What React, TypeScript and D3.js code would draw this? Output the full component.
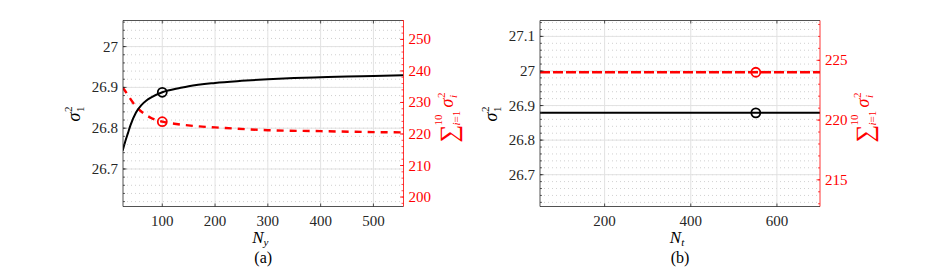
import React from "react";
import * as d3 from "d3";

// panel (a): sweep over N_y
const nyValues = [25, 30, 35, 40, 50, 60, 70, 80, 100, 135, 150, 200, 250, 300, 350, 400, 450, 500, 557];
const nySigma1 = [26.745, 26.768, 26.788, 26.808, 26.838, 26.856, 26.868, 26.876, 26.888, 26.899, 26.903, 26.911, 26.916, 26.92, 26.923, 26.925, 26.927, 26.928, 26.93];
const nyRedX = [25, 35, 45, 55, 65, 80, 100, 130, 170, 200, 300, 400, 500, 557];
const nySumSigma = [234.8, 232.3, 229.8, 227.9, 226.5, 225.0, 223.9, 223.1, 222.4, 222.1, 221.2, 220.9, 220.6, 220.5];
const nyPick = 100;

// panel (b): sweep over N_t (flat)
const ntValues = [50, 100, 200, 300, 400, 500, 551, 600, 700];
const ntSigma1 = [26.879, 26.879, 26.879, 26.879, 26.879, 26.879, 26.879, 26.879, 26.879];
const ntSumSigma = [224.0, 224.0, 224.0, 224.0, 224.0, 224.0, 224.0, 224.0, 224.0];
const ntPick = 551;

const aXTicks = [100, 200, 300, 400, 500];
const aLeftTicks = [26.7, 26.8, 26.9, 27];
const aRightTicks = [200, 210, 220, 230, 240, 250];
const bXTicks = [200, 400, 600];
const bLeftTicks = [26.7, 26.8, 26.9, 27, 27.1];
const bRightTicks = [215, 220, 225];

const FONT = "Liberation Serif";
const RED = "#ff0000";
const AXIS = "#262626";
const TICK = 15;

type PanelProps = {
  left: number;
  right: number;
  top: number;
  bottom: number;
  xDomain: [number, number];
  leftDomain: [number, number];
  rightDomain: [number, number];
  xTicks: number[];
  leftTicks: number[];
  rightTicks: number[];
  leftMinor: number;
  rightMinor: number;
  blackX: number[];
  blackY: number[];
  redX: number[];
  redY: number[];
  pick: number;
  dash: string;
  xSub: string;
  caption: string;
};

function fmt(v: number) {
  return String(+v.toFixed(3));
}

function range(lo: number, hi: number, step: number) {
  const out: number[] = [];
  const start = Math.ceil(lo / step - 1e-9);
  for (let k = start; k * step <= hi + 1e-9; k++) out.push(+(k * step).toFixed(6));
  return out;
}

function Panel(p: PanelProps) {
  const x = d3.scaleLinear().domain(p.xDomain).range([p.left, p.right]);
  const yL = d3.scaleLinear().domain(p.leftDomain).range([p.bottom, p.top]);
  const yR = d3.scaleLinear().domain(p.rightDomain).range([p.bottom, p.top]);

  const black = d3
    .line<number>()
    .x((_, i) => x(p.blackX[i]))
    .y((d) => yL(d))
    .curve(d3.curveMonotoneX)(p.blackY) as string;
  const red = d3
    .line<number>()
    .x((_, i) => x(p.redX[i]))
    .y((d) => yR(d))
    .curve(d3.curveMonotoneX)(p.redY) as string;

  const bi = p.blackX.indexOf(p.pick);
  const ri = p.redX.indexOf(p.pick);
  const leftMinors = range(p.leftDomain[0], p.leftDomain[1], p.leftMinor);
  const rightMinors = range(p.rightDomain[0], p.rightDomain[1], p.rightMinor);
  const cx = (p.left + p.right) / 2;
  const cy = (p.top + p.bottom) / 2;

  return (
    <g>
      <defs>
        <clipPath id={`clip-${p.caption}`}>
          <rect x={p.left} y={p.top} width={p.right - p.left} height={p.bottom - p.top} />
        </clipPath>
      </defs>
      {/* minor dotted grid */}
      {leftMinors.map((v) => (
        <line key={"mg" + v} x1={p.left} x2={p.right} y1={yL(v)} y2={yL(v)} stroke="#c4c4c4" strokeWidth={0.8} strokeDasharray="1 3" />
      ))}
      {/* major grid */}
      {p.leftTicks.map((v) => (
        <line key={"g" + v} x1={p.left} x2={p.right} y1={yL(v)} y2={yL(v)} stroke="#e2e2e2" strokeWidth={1} />
      ))}
      {p.xTicks.map((v) => (
        <line key={"gx" + v} x1={x(v)} x2={x(v)} y1={p.top} y2={p.bottom} stroke="#e2e2e2" strokeWidth={1} />
      ))}

      {/* data */}
      <g clipPath={`url(#clip-${p.caption})`}>
        <path d={red} fill="none" stroke={RED} strokeWidth={2.4} strokeDasharray={p.dash} />
        <path d={black} fill="none" stroke="#000" strokeWidth={2} />
      </g>
      <circle cx={x(p.pick)} cy={yL(p.blackY[bi])} r={4.5} fill="none" stroke="#000" strokeWidth={1.8} />
      <circle cx={x(p.pick)} cy={yR(p.redY[ri])} r={4.5} fill="none" stroke={RED} strokeWidth={1.8} />

      {/* box */}
      <line x1={p.left} x2={p.right} y1={p.top} y2={p.top} stroke={AXIS} strokeWidth={0.8} />
      <line x1={p.left} x2={p.right} y1={p.bottom} y2={p.bottom} stroke={AXIS} strokeWidth={0.8} />
      <line x1={p.left} x2={p.left} y1={p.top} y2={p.bottom} stroke={AXIS} strokeWidth={0.8} />
      <line x1={p.right} x2={p.right} y1={p.top} y2={p.bottom} stroke={RED} strokeWidth={0.8} />

      {/* x ticks */}
      {p.xTicks.map((v) => (
        <g key={"xt" + v}>
          <line x1={x(v)} x2={x(v)} y1={p.bottom} y2={p.bottom - 3} stroke={AXIS} strokeWidth={0.8} />
          <line x1={x(v)} x2={x(v)} y1={p.top} y2={p.top + 3} stroke={AXIS} strokeWidth={0.8} />
          <text x={x(v)} y={p.bottom + 19} textAnchor="middle" fontFamily={FONT} fontSize={TICK} fill="#262626">
            {fmt(v)}
          </text>
        </g>
      ))}

      {/* left axis */}
      {leftMinors.map((v) => (
        <line key={"lm" + v} x1={p.left} x2={p.left + 2} y1={yL(v)} y2={yL(v)} stroke={AXIS} strokeWidth={0.7} />
      ))}
      {p.leftTicks.map((v) => (
        <g key={"lt" + v}>
          <line x1={p.left} x2={p.left + 3.5} y1={yL(v)} y2={yL(v)} stroke={AXIS} strokeWidth={0.8} />
          <text x={p.left - 5} y={yL(v) + 5} textAnchor="end" fontFamily={FONT} fontSize={TICK} fill="#262626">
            {fmt(v)}
          </text>
        </g>
      ))}

      {/* right axis */}
      {rightMinors.map((v) => (
        <line key={"rm" + v} x1={p.right} x2={p.right - 2} y1={yR(v)} y2={yR(v)} stroke={RED} strokeWidth={0.7} />
      ))}
      {p.rightTicks.map((v) => (
        <g key={"rt" + v}>
          <line x1={p.right} x2={p.right - 3.5} y1={yR(v)} y2={yR(v)} stroke={RED} strokeWidth={0.8} />
          <text x={p.right + 5} y={yR(v) + 5} textAnchor="start" fontFamily={FONT} fontSize={TICK} fill={RED}>
            {fmt(v)}
          </text>
        </g>
      ))}

      {/* left label sigma_1^2 */}
      <g transform={`translate(${p.left - 48},${cy}) rotate(-90)`} fill="#000">
        <text x={-8} y={5} fontFamily={FONT} fontSize={18} fontStyle="italic">σ</text>
        <text x={1.5} y={-3} fontFamily={FONT} fontSize={11}>2</text>
        <text x={1.5} y={9} fontFamily={FONT} fontSize={11}>1</text>
      </g>

      {/* right label sum sigma_i^2 */}
      <g transform={`translate(${p.right + 44},${cy}) rotate(-90)`} fill={RED}>
        <text x={-29} y={9} fontFamily={FONT} fontSize={25}>∑</text>
        <text x={-12} y={-6} fontFamily={FONT} fontSize={11}>10</text>
        <text x={-12} y={12} fontFamily={FONT} fontSize={11}>
          <tspan fontStyle="italic">i</tspan>=1
        </text>
        <text x={6} y={5} fontFamily={FONT} fontSize={18} fontStyle="italic">σ</text>
        <text x={15.5} y={-3} fontFamily={FONT} fontSize={11}>2</text>
        <text x={15.5} y={9} fontFamily={FONT} fontSize={11} fontStyle="italic">i</text>
      </g>

      {/* x label */}
      <text x={cx - 3} y={p.bottom + 36} textAnchor="middle" fontFamily={FONT} fontSize={17} fill="#000">
        <tspan fontStyle="italic">N</tspan>
        <tspan fontSize={11} fontStyle="italic" dy={3}>{p.xSub}</tspan>
      </text>
      <text x={cx} y={p.bottom + 56} textAnchor="middle" fontFamily={FONT} fontSize={16} fill="#000">
        ({p.caption})
      </text>
    </g>
  );
}

export default function App() {
  return (
    <svg width={947} height={269} style={{ position: "absolute", left: 0, top: 0, background: "#fff" }}>
      <rect width={947} height={269} fill="#fff" />
      <Panel
        left={123}
        right={403.5}
        top={20.5}
        bottom={206.5}
        xDomain={[25.6, 557]}
        leftDomain={[26.608, 27.064]}
        rightDomain={[197, 256]}
        xTicks={aXTicks}
        leftTicks={aLeftTicks}
        rightTicks={aRightTicks}
        leftMinor={0.02}
        rightMinor={2}
        blackX={nyValues}
        blackY={nySigma1}
        redX={nyRedX}
        redY={nySumSigma}
        pick={nyPick}
        dash="7 6"
        xSub="y"
        caption="a"
      />
      <Panel
        left={540}
        right={820}
        top={20.5}
        bottom={206.5}
        xDomain={[50, 700]}
        leftDomain={[26.608, 27.146]}
        rightDomain={[212.77, 228.33]}
        xTicks={bXTicks}
        leftTicks={bLeftTicks}
        rightTicks={bRightTicks}
        leftMinor={0.02}
        rightMinor={1}
        blackX={ntValues}
        blackY={ntSigma1}
        redX={ntValues}
        redY={ntSumSigma}
        pick={ntPick}
        dash="10 3"
        xSub="t"
        caption="b"
      />
    </svg>
  );
}
